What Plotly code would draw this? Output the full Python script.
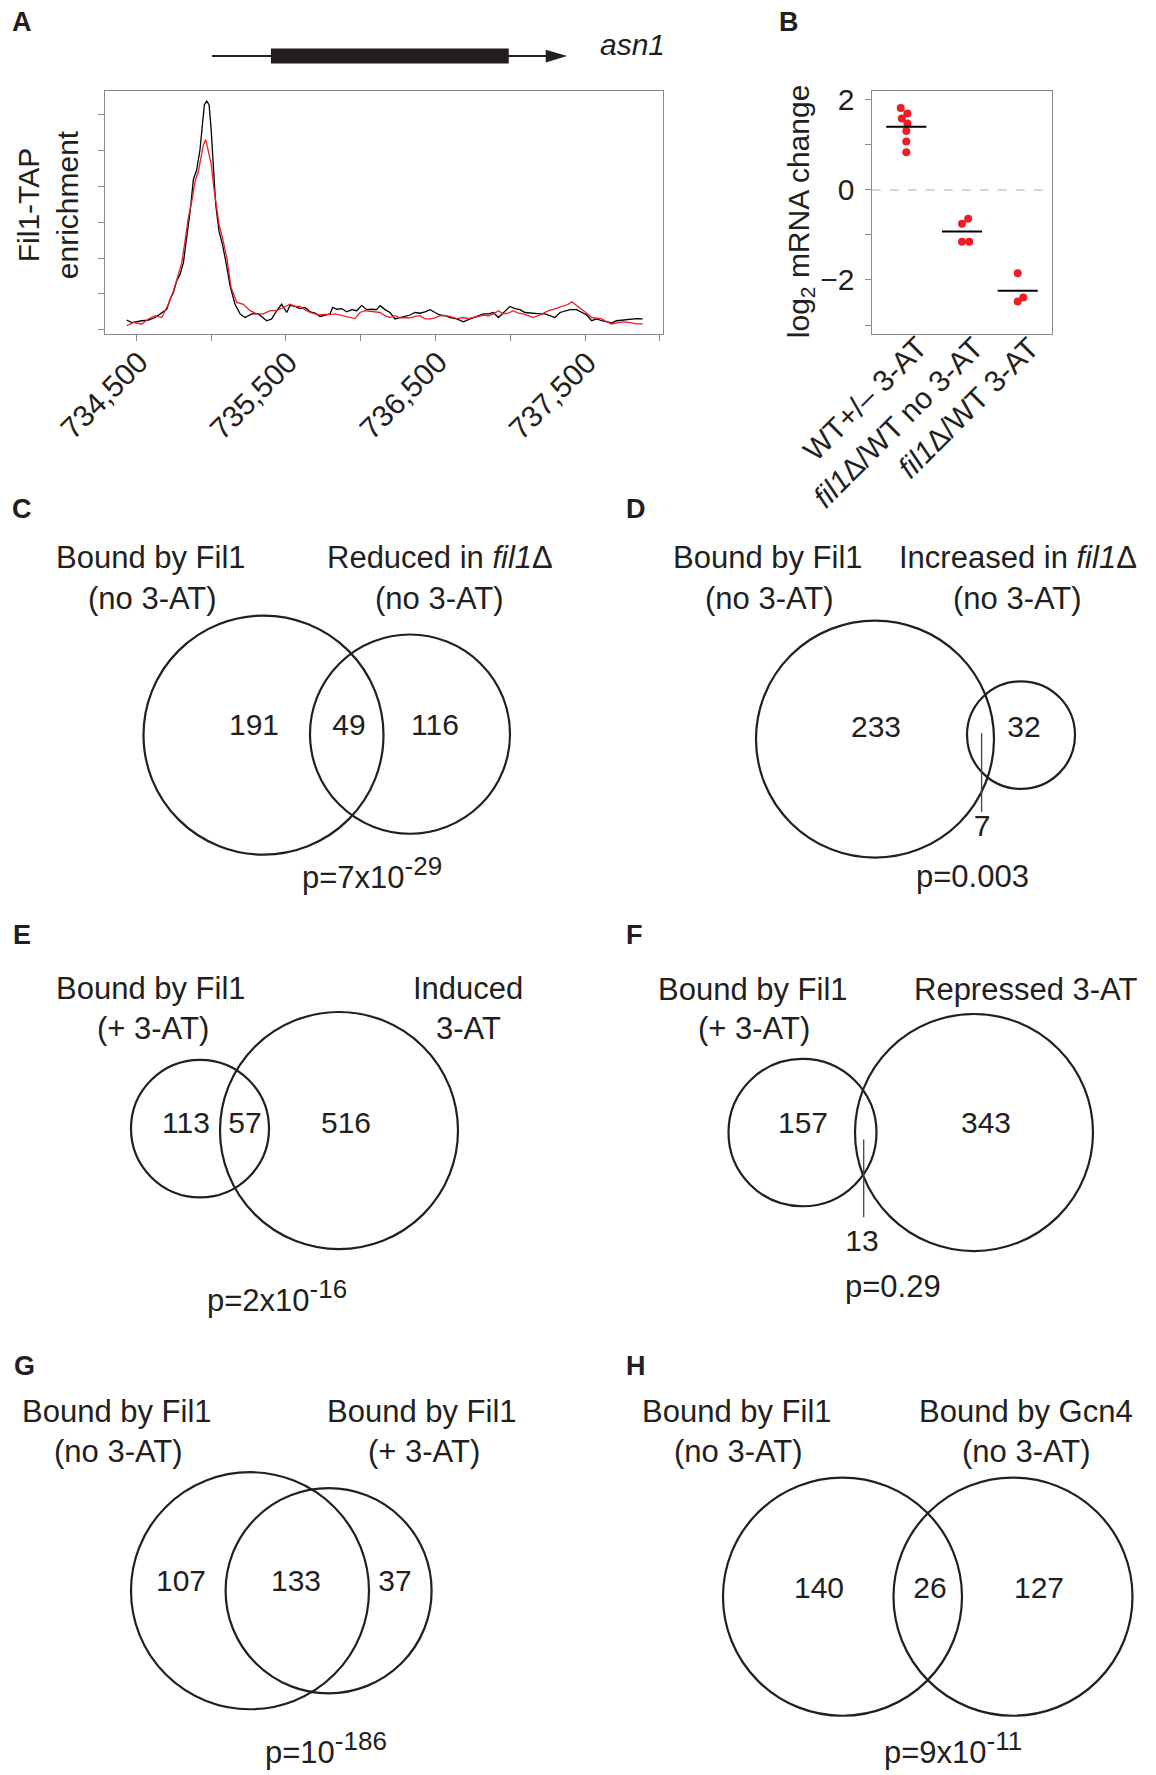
import plotly.graph_objects as go
import numpy as np

# ---------------- DATA ----------------
# Panel A: Fil1-TAP enrichment profiles (genomic position, enrichment)
black_bp = [734436, 734470, 734537, 734581, 734626, 734670, 734704, 734726, 734748, 734770,
            734793, 734815, 734837, 734860, 734882, 734904, 734926, 734942, 734955, 734971,
            734987, 735000, 735016, 735031, 735053, 735076, 735098, 735127, 735160, 735194,
            735227, 735272, 735316, 735372, 735405, 735439, 735472, 735506,
            735528, 735561, 735595, 735628, 735662, 735695, 735729, 735762, 735795, 735813,
            735840, 735873, 735907, 735940, 735974, 736007, 736040, 736074, 736107, 736130,
            736163, 736196, 736230, 736263, 736297, 736330, 736363, 736397, 736430, 736464,
            736497, 736531, 736564, 736597, 736642, 736687, 736720, 736753, 736787, 736820,
            736854, 736887, 736921, 736954, 736998, 737032, 737065, 737099, 737132, 737166,
            737199, 737232, 737266, 737299, 737333, 737366, 737400, 737444, 737478, 737511,
            737544, 737578, 737611, 737645, 737678, 737711, 737756, 737801, 737845, 737885]
black_val = [0.27, 0.20, 0.25, 0.27, 0.34, 0.48, 0.57, 0.85, 1.04, 1.36,
             1.55, 1.87, 2.57, 3.31, 4.19, 4.46, 5.02, 5.62, 6.27, 6.38,
             6.27, 5.62, 4.51, 3.49, 2.75, 2.38, 1.92, 1.22, 0.71, 0.44,
             0.34, 0.44, 0.44, 0.25, 0.30, 0.53, 0.71, 0.48,
             0.68, 0.65, 0.59, 0.62, 0.50, 0.46, 0.37, 0.41, 0.44, 0.62,
             0.57, 0.59, 0.50, 0.56, 0.53, 0.68, 0.56, 0.57, 0.56, 0.67,
             0.56, 0.48, 0.30, 0.34, 0.37, 0.41, 0.48, 0.46, 0.50, 0.56,
             0.48, 0.41, 0.39, 0.34, 0.30, 0.22, 0.28, 0.34, 0.39, 0.44,
             0.44, 0.48, 0.34, 0.48, 0.65, 0.59, 0.56, 0.48, 0.46, 0.46,
             0.44, 0.44, 0.39, 0.34, 0.48, 0.53, 0.56, 0.56, 0.48, 0.41,
             0.25, 0.30, 0.25, 0.22, 0.19, 0.25, 0.27, 0.28, 0.31, 0.30]
red_bp = [734436, 734481, 734537, 734581, 734626, 734670, 734715, 734748, 734782, 734804,
          734826, 734848, 734871, 734893, 734915, 734933, 734949, 734964, 734982, 735000,
          735016, 735031, 735053, 735076, 735105, 735134, 735172, 735216, 735261, 735305,
          735350, 735394, 735439, 735483,
          735528, 735561, 735595, 735628, 735662, 735695, 735729, 735762, 735795, 735829,
          735862, 735896, 735929, 735962, 735996, 736029, 736063, 736096, 736130, 736163,
          736196, 736230, 736263, 736297, 736330, 736363, 736397, 736430, 736464, 736497,
          736531, 736564, 736597, 736642, 736687, 736720, 736753, 736787, 736820, 736854,
          736887, 736921, 736954, 736987, 737021, 737054, 737088, 737121, 737154, 737188,
          737221, 737255, 737288, 737322, 737355, 737388, 737411, 737444, 737478, 737511,
          737544, 737578, 737611, 737645, 737678, 737711, 737756, 737801, 737845, 737885]
red_val = [0.11, 0.20, 0.16, 0.30, 0.39, 0.34, 0.71, 1.08, 1.55, 1.87,
           2.47, 3.12, 3.58, 4.14, 4.42, 4.79, 5.16, 5.30, 4.97, 4.65,
           4.05, 3.58, 2.94, 2.57, 2.01, 1.18, 0.76, 0.71, 0.53, 0.44,
           0.44, 0.53, 0.53, 0.62,
           0.71, 0.65, 0.65, 0.56, 0.48, 0.44, 0.41, 0.43, 0.42, 0.44,
           0.41, 0.39, 0.34, 0.31, 0.48, 0.53, 0.51, 0.50, 0.48, 0.39,
           0.34, 0.39, 0.33, 0.34, 0.33, 0.37, 0.39, 0.30, 0.30, 0.33,
           0.39, 0.39, 0.37, 0.31, 0.34, 0.31, 0.33, 0.37, 0.41, 0.39,
           0.44, 0.53, 0.44, 0.46, 0.53, 0.46, 0.44, 0.39, 0.34, 0.39,
           0.46, 0.53, 0.57, 0.62, 0.67, 0.71, 0.78, 0.68, 0.57, 0.46,
           0.34, 0.31, 0.30, 0.22, 0.16, 0.19, 0.22, 0.20, 0.16, 0.16]
a_tick_vals = [734500, 735000, 735500, 736000, 736500, 737000, 737500, 738000]
a_label_vals = [734500, 735500, 736500, 737500]
a_label_text = ["734,500", "735,500", "736,500", "737,500"]
a_y_ticks = [0, 1, 2, 3, 4, 5, 6]
gene_name = "asn1"
gene_start, cds_start, cds_end, gene_end = 735007, 735400, 736990, 737380

# Panel B: log2 mRNA change
b_categories = ["WT+/– 3-AT", "<i>fil1</i>Δ/WT no 3-AT", "<i>fil1</i>Δ/WT 3-AT"]
b_group = [1, 1, 1, 1, 1, 1, 1, 2, 2, 2, 2, 3, 3, 3]
b_jitter = [-0.10, 0.02, -0.08, 0.02, 0.0, 0.0, 0.0, 0.0, 0.11, 0.0, 0.13, 0.0, 0.10, 0.0]
b_values = [1.82, 1.70, 1.59, 1.48, 1.31, 1.08, 0.84, -0.75, -0.64, -1.15, -1.15, -1.85, -2.39, -2.48]
b_y_ticks = [-3, -2, -1, 0, 1, 2]
b_y_label_vals = [-2, 0, 2]
b_y_label_text = ["−2", "0", "2"]

# Venn diagrams: counts (left only, overlap, right only)
venn_C = [191, 49, 116]
venn_D = [233, 7, 32]
venn_E = [113, 57, 516]
venn_F = [157, 13, 343]
venn_G = [107, 133, 37]
venn_H = [140, 26, 127]
venn_C_labels = ["Bound by Fil1", "(no 3-AT)", "Reduced in <i>fil1</i>Δ", "(no 3-AT)"]
venn_D_labels = ["Bound by Fil1", "(no 3-AT)", "Increased in <i>fil1</i>Δ", "(no 3-AT)"]
venn_E_labels = ["Bound by Fil1", "(+ 3-AT)", "Induced", "3-AT"]
venn_F_labels = ["Bound by Fil1", "(+ 3-AT)", "Repressed 3-AT", ""]
venn_G_labels = ["Bound by Fil1", "(no 3-AT)", "Bound by Fil1", "(+ 3-AT)"]
venn_H_labels = ["Bound by Fil1", "(no 3-AT)", "Bound by Gcn4", "(no 3-AT)"]
venn_p_base = ["p=7x10", "p=0.003", "p=2x10", "p=0.29", "p=10", "p=9x10"]
venn_p_exp = ["-29", "", "-16", "", "-186", "-11"]

# ---------------- LAYOUT (pixel geometry) ----------------
W, H = 1156, 1775
FONT = "Liberation Sans, Arial, Helvetica, sans-serif"
TXT = "#231f20"
GREY = "#8a8a8a"
TDY = -4      # vertical correction for horizontal annotation text
LDY = -7      # vertical correction for panel letters
NDY = -2      # vertical correction for venn numbers


def pxx(p):
    return p / W


def pyy(p):
    return 1 - p / H


def ptext(base, exp):
    if not exp:
        return base
    return base + '<sup><span style="font-size:26px">' + exp + '</span></sup>'


venn_layout = [
    dict(counts=venn_C, labels=venn_C_labels, p=ptext(venn_p_base[0], venn_p_exp[0]), letter=("C", 22, 511),
         circles=[(263.5, 731, 120), (410, 730, 100)],
         count_pos=[(254, 725), (349, 725), (435, 725)],
         label_pos=[(151, 557), (152, 598), (440, 557), (439, 598)],
         p_pos=(372, 873), leader=None),
    dict(counts=venn_D, labels=venn_D_labels, p=ptext(venn_p_base[1], venn_p_exp[1]), letter=("D", 636, 511),
         circles=[(875, 735, 119), (1021, 731, 54)],
         count_pos=[(876, 727), (982, 827), (1024, 727)],
         label_pos=[(768, 557), (769, 598), (1018, 557), (1017, 598)],
         p_pos=(972, 877), leader=(981.6, 729, 808)),
    dict(counts=venn_E, labels=venn_E_labels, p=ptext(venn_p_base[2], venn_p_exp[2]), letter=("E", 22, 939),
         circles=[(200, 1126, 69), (339, 1128, 119)],
         count_pos=[(186, 1125), (245, 1125), (346, 1125)],
         label_pos=[(151, 989), (153, 1030), (468, 989), (468, 1030)],
         p_pos=(277, 1298), leader=None),
    dict(counts=venn_F, labels=venn_F_labels, p=ptext(venn_p_base[3], venn_p_exp[3]), letter=("F", 634, 939),
         circles=[(802.5, 1130, 74), (974, 1130, 119)],
         count_pos=[(803, 1125), (862, 1243), (986, 1125)],
         label_pos=[(753, 990), (754, 1030), (1025, 990), (1025, 1030)],
         p_pos=(893, 1289), leader=(863.7, 1137, 1215)),
    dict(counts=venn_G, labels=venn_G_labels, p=ptext(venn_p_base[4], venn_p_exp[4]), letter=("G", 24, 1371),
         circles=[(250, 1590, 119), (328.6, 1590, 103)],
         count_pos=[(181, 1585), (296, 1585), (395, 1585)],
         label_pos=[(117, 1414), (118, 1454), (422, 1414), (424, 1454)],
         p_pos=(326, 1752), leader=None),
    dict(counts=venn_H, labels=venn_H_labels, p=ptext(venn_p_base[5], venn_p_exp[5]), letter=("H", 636, 1371),
         circles=[(842.5, 1596, 119.5), (1013, 1596, 119.5)],
         count_pos=[(819, 1592), (930, 1592), (1039, 1592)],
         label_pos=[(736.5, 1414), (738, 1454), (1025.5, 1414), (1026, 1454)],
         p_pos=(953, 1752), leader=None),
]

fig = go.Figure()

# ---- Panel A traces ----
fig.add_trace(go.Scatter(x=black_bp, y=black_val, mode="lines", xaxis="x", yaxis="y",
                         line=dict(color="black", width=1.3), hoverinfo="skip"))
fig.add_trace(go.Scatter(x=red_bp, y=red_val, mode="lines", xaxis="x", yaxis="y",
                         line=dict(color="#ee1c24", width=1.3), hoverinfo="skip"))

# ---- Panel B traces ----
bx = [g + j for g, j in zip(b_group, b_jitter)]
fig.add_trace(go.Scatter(x=bx, y=b_values, mode="markers", xaxis="x2", yaxis="y2",
                         marker=dict(color="#ee1c24", size=8, line=dict(width=0)), hoverinfo="skip"))
mx, my = [], []
for g in sorted(set(b_group)):
    m = float(np.mean([v for gg, v in zip(b_group, b_values) if gg == g]))
    mx += [g - 0.36, g + 0.36, None]
    my += [m, m, None]
fig.add_trace(go.Scatter(x=mx, y=my, mode="lines", xaxis="x2", yaxis="y2",
                         line=dict(color="black", width=2), hoverinfo="skip"))

# ---- Venn number labels (overlay pixel axes) ----
vx, vy, vt = [], [], []
for v in venn_layout:
    for (cx, cy), n in zip(v["count_pos"], v["counts"]):
        vx.append(cx)
        vy.append(cy + NDY)
        vt.append(str(n))
fig.add_trace(go.Scatter(x=vx, y=vy, text=vt, mode="text", xaxis="x3", yaxis="y3",
                         textposition="middle center",
                         textfont=dict(size=30, color=TXT, family=FONT), hoverinfo="skip"))

shapes = []
annotations = []

for v in venn_layout:
    for (cx, cy, r) in v["circles"]:
        shapes.append(dict(type="circle", xref="x3", yref="y3", x0=cx - r, x1=cx + r,
                           y0=cy - r, y1=cy + r, line=dict(color=TXT, width=2.2)))
    if v["leader"]:
        lx, ly0, ly1 = v["leader"]
        shapes.append(dict(type="line", xref="x3", yref="y3", x0=lx, x1=lx, y0=ly0, y1=ly1,
                           line=dict(color="#444444", width=1.3)))
    for text, (lx, ly) in zip(v["labels"], v["label_pos"]):
        if text:
            annotations.append(dict(text=text, xref="x3", yref="y3", x=lx, y=ly + TDY,
                                    showarrow=False, xanchor="center", yanchor="middle",
                                    font=dict(size=31, color=TXT, family=FONT)))
    annotations.append(dict(text=v["p"], xref="x3", yref="y3", x=v["p_pos"][0], y=v["p_pos"][1] + TDY,
                            showarrow=False, xanchor="center", yanchor="middle",
                            font=dict(size=31, color=TXT, family=FONT)))
    L, lx, ly = v["letter"]
    annotations.append(dict(text="<b>" + L + "</b>", xref="paper", yref="paper", x=pxx(lx), y=pyy(ly + LDY),
                            showarrow=False, xanchor="center", yanchor="middle",
                            font=dict(size=27, color=TXT, family=FONT)))

# Panel letters A, B
for L, lx, ly in [("A", 22, 22), ("B", 789, 22)]:
    annotations.append(dict(text="<b>" + L + "</b>", xref="paper", yref="paper", x=pxx(lx), y=pyy(ly + LDY),
                            showarrow=False, xanchor="center", yanchor="middle",
                            font=dict(size=27, color=TXT, family=FONT)))

# ---- Gene model above panel A ----
shapes.append(dict(type="line", xref="x", yref="paper", x0=gene_start, x1=gene_end - 60,
                   y0=pyy(49.3), y1=pyy(49.3), line=dict(color=TXT, width=2)))
shapes.append(dict(type="rect", xref="x", yref="paper", x0=cds_start, x1=cds_end,
                   y0=pyy(56.7), y1=pyy(41.7), fillcolor=TXT, line=dict(width=0)))
shapes.append(dict(type="path", xref="x", yref="paper",
                   path=f"M {gene_end - 143},{pyy(43)} L {gene_end},{pyy(49.3)} L {gene_end - 143},{pyy(55.6)} Z",
                   fillcolor=TXT, line=dict(width=0)))
annotations.append(dict(text="<i>" + gene_name + "</i>", xref="paper", yref="paper",
                        x=pxx(632), y=pyy(42 + TDY), showarrow=False, xanchor="center", yanchor="middle",
                        font=dict(size=30, color=TXT, family=FONT)))

# Panel A axis title and tick labels
annotations.append(dict(text="Fil1-TAP<br>enrichment", xref="paper", yref="paper",
                        x=pxx(48), y=pyy(199), showarrow=False, textangle=-90,
                        xanchor="center", yanchor="middle",
                        font=dict(size=30, color=TXT, family=FONT)))
for v, t in zip(a_label_vals, a_label_text):
    annotations.append(dict(text=t, xref="x", yref="paper", x=v, xshift=20, y=pyy(337),
                            showarrow=False, textangle=-45, xanchor="right", yanchor="top",
                            font=dict(size=30, color=TXT, family=FONT)))

# Panel B axis title and category labels
annotations.append(dict(text="log<sub>2</sub> mRNA change", xref="paper", yref="paper",
                        x=pxx(800), y=pyy(205), showarrow=False, textangle=-90,
                        xanchor="center", yanchor="middle",
                        font=dict(size=30, color=TXT, family=FONT)))
for i, t in enumerate(b_categories):
    annotations.append(dict(text=t, xref="x2", yref="paper", x=i + 1, xshift=30, y=pyy(322),
                            showarrow=False, textangle=-45, xanchor="right", yanchor="top",
                            font=dict(size=30, color=TXT, family=FONT)))

# dashed zero line in panel B
shapes.append(dict(type="line", xref="x2 domain", yref="y2", x0=0, x1=1, y0=0, y1=0,
                   line=dict(color="#c8c8c8", width=1.3, dash="dash"), layer="below"))

axis_common = dict(showgrid=False, zeroline=False, showline=True, mirror=True,
                   linecolor=GREY, linewidth=1.3, tickcolor=GREY, tickwidth=1.2)

fig.update_layout(
    width=W, height=H, margin=dict(l=0, r=0, t=0, b=0),
    paper_bgcolor="white", plot_bgcolor="rgba(0,0,0,0)",
    showlegend=False,
    font=dict(family=FONT, color=TXT, size=30),
    xaxis=dict(domain=[pxx(105), pxx(663)], range=[734291, 738021], anchor="y",
               tickmode="array", tickvals=a_tick_vals, showticklabels=False,
               ticks="outside", ticklen=6, **axis_common),
    yaxis=dict(domain=[pyy(328.3), pyy(84.3)], range=[-0.12, 6.66], anchor="x",
               tickmode="array", tickvals=a_y_ticks, showticklabels=False,
               ticks="outside", ticklen=6, **axis_common),
    xaxis2=dict(domain=[pxx(871.7), pxx(1052.3)], range=[0.379, 3.621], anchor="y2",
                showticklabels=False, ticks="", **axis_common),
    yaxis2=dict(domain=[pyy(328.3), pyy(84.3)], range=[-3.2, 2.2], anchor="x2",
                tickmode="array", tickvals=b_y_label_vals, ticktext=b_y_label_text,
                ticks="outside", ticklen=6, tickfont=dict(size=30, color=TXT, family=FONT),
                minor=dict(tickmode="array", tickvals=b_y_ticks, ticks="outside", ticklen=6,
                           tickcolor=GREY, showgrid=False),
                ticklabelstandoff=4, **axis_common),
    xaxis3=dict(domain=[0, 1], range=[0, W], anchor="y3", visible=False, fixedrange=True),
    yaxis3=dict(domain=[0, 1], range=[H, 0], anchor="x3", visible=False, fixedrange=True),
    shapes=shapes,
    annotations=annotations,
)

fig.write_html("out.html", config={"displayModeBar": False},
               post_script="document.body.style.margin='0px';document.body.style.padding='0px';")
